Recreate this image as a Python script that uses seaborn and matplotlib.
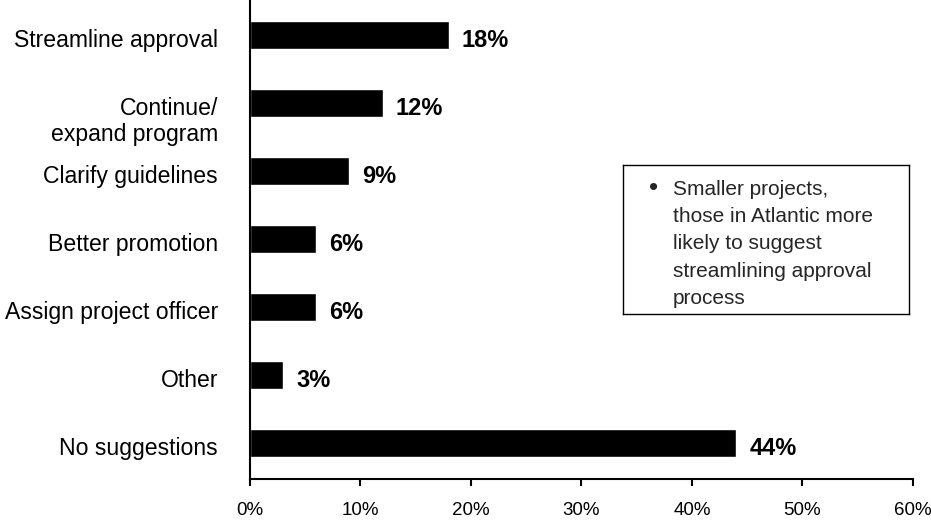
import matplotlib
matplotlib.use("Agg")
import matplotlib.pyplot as plt
from matplotlib.transforms import offset_copy, blended_transform_factory
import seaborn as sns
import pandas as pd

# Survey answers: suggestions for improving the program
categories = [
    "Streamline approval",
    "Continue/\nexpand program",
    "Clarify guidelines",
    "Better promotion",
    "Assign project officer",
    "Other",
    "No suggestions",
]
shares = [18, 12, 9, 6, 6, 3, 44]
x_ticks = [0, 10, 20, 30, 40, 50, 60]
x_tick_labels = ["0%", "10%", "20%", "30%", "40%", "50%", "60%"]
note_lines = [
    "Smaller projects,",
    "those in Atlantic more",
    "likely to suggest",
    "streamlining approval",
    "process",
]

sns.set_theme(style="white")
plt.rcParams["font.family"] = ["Liberation Sans", "DejaVu Sans"]

df = pd.DataFrame({"category": categories, "share": shares})

fig = plt.figure(figsize=(9.31, 5.22), dpi=100)
ax = fig.add_axes([0.2685, 0.0824, 0.712, 0.9176])

sns.barplot(data=df, x="share", y="category", orient="h", color="black",
            saturation=1, width=0.42, ax=ax)

ax.set_xlim(0, 60)
ax.set_ylim(6.53, -0.515)
ax.set_xticks(x_ticks)
ax.set_xticklabels(x_tick_labels, fontsize=13.5)
ax.set_xlabel("")
ax.set_ylabel("")
ax.tick_params(axis="x", length=5, width=1.5, direction="out", pad=11.5,
               colors="black", bottom=True)

# Category labels: the first line's baseline sits a little below the bar centre
ax.set_yticks(range(len(categories)))
ax.set_yticklabels([])
ax.tick_params(axis="y", length=0)
label_size = 16.6
line_step = 26.5  # pixel distance between lines of a wrapped label
base_trans = blended_transform_factory(ax.transAxes, ax.transData)
for i, c in enumerate(categories):
    n_lines = c.count("\n") + 1
    trans = offset_copy(base_trans, fig=fig, x=-32,
                        y=-11.7 - (n_lines - 1) * line_step, units="dots")
    ax.text(0, i, c, transform=trans, ha="right", va="baseline",
            fontsize=label_size, linespacing=1.2, color="black")

for side in ["top", "right"]:
    ax.spines[side].set_visible(False)
for side in ["left", "bottom"]:
    ax.spines[side].set_color("black")
    ax.spines[side].set_linewidth(1.5)

# Value labels just past each bar end
for i, v in enumerate(shares):
    ax.annotate(f"{v}%", xy=(v, i), xytext=(9.4, -8.7), textcoords="offset points",
                ha="left", va="baseline", fontsize=17, fontweight="bold", color="black")

# Note box on the right
box_ax = fig.add_axes([623 / 931, 1 - 314 / 522, (909 - 623) / 931, (314 - 165) / 522])
box_ax.set_xticks([])
box_ax.set_yticks([])
for s in box_ax.spines.values():
    s.set_color("black")
    s.set_linewidth(1.0)
box_ax.set_facecolor("white")
box_ax.text(0.09, 0.845, "\u2022", transform=box_ax.transAxes, fontsize=19,
            ha="left", va="center")
box_ax.text(0.175, 0.90, "\n".join(note_lines), transform=box_ax.transAxes,
            fontsize=15, ha="left", va="top", linespacing=1.55)

fig.savefig("out.png", dpi=100)
